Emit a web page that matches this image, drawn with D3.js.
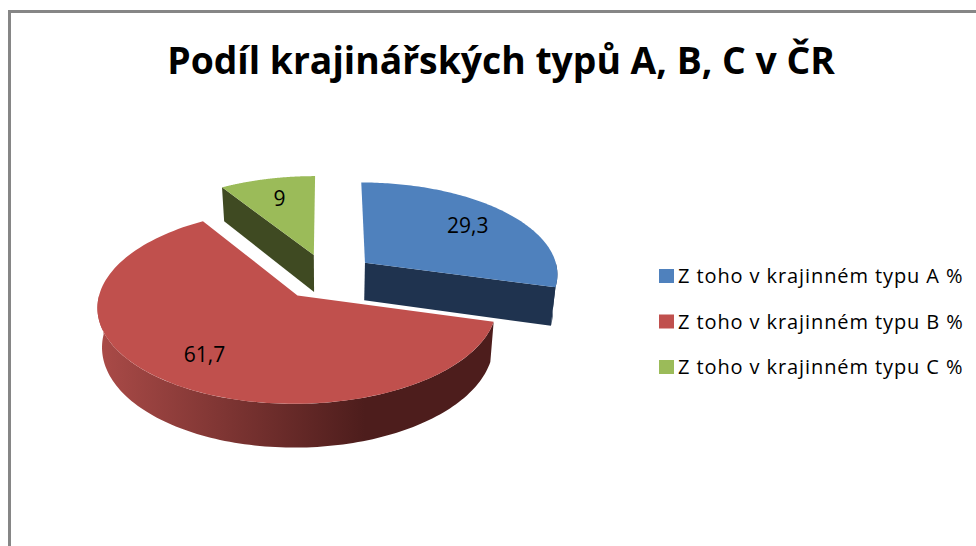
<!DOCTYPE html>
<html>
<head>
<meta charset="utf-8">
<script src="https://cdn.jsdelivr.net/npm/d3@7"></script>
<style>
  html, body { margin: 0; padding: 0; background: #fff; overflow: hidden; }
  text { font-family: "Open Sans", sans-serif; fill: #000; }
</style>
</head>
<body>
<svg width="976" height="546"></svg>
<script>
// data
var chartTitle = "Podíl krajinářských typů A, B, C v ČR";
var categories = ["Z toho v krajinném typu A %", "Z toho v krajinném typu B %", "Z toho v krajinném typu C %"];
var values = [29.3, 61.7, 9];

var svg = d3.select("svg");

var topColor = d3.scaleOrdinal().domain(categories).range(["#4f81bd", "#c0504d", "#9bbb59"]);
var wallColor = d3.scaleOrdinal().domain(categories).range(["#1f334f", "url(#redWall)", "#3f4a22"]);

// frame, only top and left edge are visible
svg.append("path")
    .attr("d", "M9.5,546V11.5H976")
    .attr("fill", "none")
    .attr("stroke", "#868686")
    .attr("stroke-width", 3);

svg.append("text")
    .attr("x", 501)
    .attr("y", 74)
    .attr("text-anchor", "middle")
    .style("font-size", "37.3px")
    .style("font-weight", 700)
    .text(chartTitle);

var grad = svg.append("defs").append("linearGradient")
    .attr("id", "redWall")
    .attr("gradientUnits", "userSpaceOnUse")
    .attr("x1", 96).attr("x2", 365).attr("y1", 0).attr("y2", 0);
grad.append("stop").attr("offset", 0).attr("stop-color", "#ab4b48");
grad.append("stop").attr("offset", 1).attr("stop-color", "#4d1d1c");

// pie with fake perspective, one vanishing depth for all slices
var cx = 327, cy = 276.5,
    rx = 194, ry = 92,
    explode = 0.25,
    depth = 38, persp = 0.11;

var pie = d3.pie().sort(null).value(function(d) { return d; });
var arcs = pie(values);

function project(d, angle, rad, z) {
  var mid = (d.startAngle + d.endAngle) / 2;
  var X = explode * Math.sin(mid) + rad * Math.sin(angle),
      Y = -explode * Math.cos(mid) - rad * Math.cos(angle);
  var s = 1 / (1 - persp * Y);
  return [
    cx + rx * X * s * (1 - 0.02 * z),
    cy + ry * Y * s + z * depth * s
  ];
}

function sample(a0, a1) {
  return d3.range(0, 121).map(function(i) { return a0 + (a1 - a0) * i / 120; });
}

var line = d3.line();

function topPath(d) {
  var pts = [project(d, d.startAngle, 0, 0)];
  sample(d.startAngle, d.endAngle).forEach(function(a) { pts.push(project(d, a, 1, 0)); });
  return line(pts) + "Z";
}

function rimPath(d) {
  var a0 = Math.max(d.startAngle, Math.PI / 2),
      a1 = Math.min(d.endAngle, Math.PI * 1.5);
  if (a1 <= a0) return null;
  var angles = sample(a0, a1);
  var pts = angles.map(function(a) { return project(d, a, 1, 0); })
    .concat(angles.slice().reverse().map(function(a) { return project(d, a, 1, 1); }));
  return line(pts) + "Z";
}

function facePath(d, a) {
  return line([project(d, a, 0, 0), project(d, a, 1, 0), project(d, a, 1, 1), project(d, a, 0, 1)]) + "Z";
}

var slices = svg.selectAll("g.slice")
    .data(arcs)
  .enter().append("g")
    .attr("class", "slice");

// walls first
slices.each(function(d, i) {
  var g = d3.select(this), fill = wallColor(categories[i]);
  var rim = rimPath(d);
  if (rim) g.append("path").attr("d", rim).attr("fill", fill);
  if (d.startAngle > Math.PI) g.append("path").attr("d", facePath(d, d.startAngle)).attr("fill", fill);
  if (d.endAngle < Math.PI) g.append("path").attr("d", facePath(d, d.endAngle)).attr("fill", fill);
});

slices.append("path")
    .attr("d", topPath)
    .attr("fill", function(d, i) { return topColor(categories[i]); });

var fmt = d3.format(".1~f");
slices.append("text")
    .attr("transform", function(d) {
      return "translate(" + project(d, (d.startAngle + d.endAngle) / 2, 0.72, 0) + ")";
    })
    .attr("text-anchor", "middle")
    .attr("dy", "0.36em")
    .style("font-size", "21px")
    .text(function(d) { return fmt(d.value).replace(".", ","); });

// legend
var legendY = d3.scalePoint().domain(categories).range([276, 367]);

var legend = svg.selectAll("g.legend")
    .data(categories)
  .enter().append("g")
    .attr("class", "legend")
    .attr("transform", function(d) { return "translate(0," + legendY(d) + ")"; });

legend.append("rect")
    .attr("x", 659)
    .attr("y", -7)
    .attr("width", 15)
    .attr("height", 14)
    .attr("fill", function(d) { return topColor(d); });

legend.append("text")
    .attr("x", 678)
    .attr("dy", "0.36em")
    .style("font-size", "20px")
    .style("letter-spacing", "0.9px")
    .text(function(d) { return d; });
</script>
</body>
</html>
